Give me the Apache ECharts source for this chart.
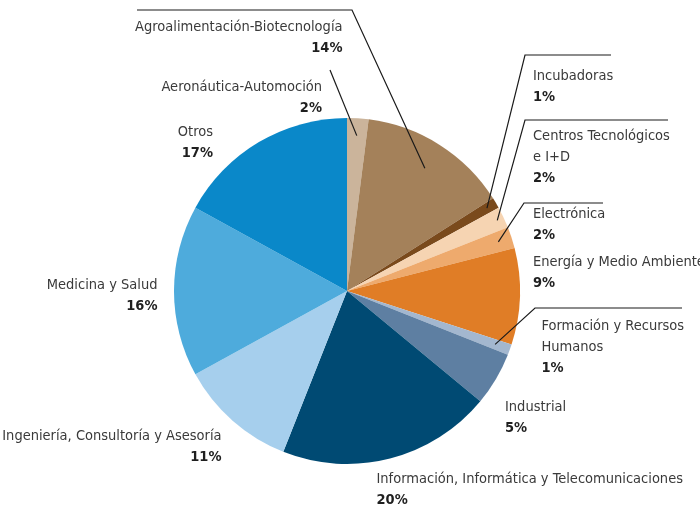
<!DOCTYPE html>
<html lang="es">
<head>
<meta charset="UTF-8">
<title>Distribución por sectores</title>
<style>
  * { margin: 0; padding: 0; }
  #grafico { width: 700px; height: 508px; background: #fff; }
</style>
</head>
<body>
<div id="grafico"></div>
<script src="https://cdn.jsdelivr.net/npm/echarts@6/dist/echarts.min.js"></script>
<script>
// datos
var sectores = [
    'Aeronáutica-Automoción',
    'Agroalimentación-Biotecnología',
    'Incubadoras',
    'Centros Tecnológicos\ne I+D',
    'Electrónica',
    'Energía y Medio Ambiente',
    'Formación y Recursos\nHumanos',
    'Industrial',
    'Información, Informática y Telecomunicaciones',
    'Ingeniería, Consultoría y Asesoría',
    'Medicina y Salud',
    'Otros'
];
var porcentajes = [2, 14, 1, 2, 2, 9, 1, 5, 20, 11, 16, 17];
var colores = ['#cbb49b', '#a4815a', '#7a4a1c', '#f6d4b2', '#eeaa6d', '#e07d26',
               '#a3b7cf', '#5e7fa2', '#004a73', '#a6cfed', '#4eabdc', '#0a88c9'];

// colocación de etiquetas (x, centro de la primera línea, alineación)
var etiquetaX = [322, 342.5, 533, 533, 533, 533, 541.5, 505, 376.5, 221.5, 157.5, 213];
var etiquetaY = [87, 27, 76, 136.5, 214.5, 262.5, 326, 407.5, 479, 436.5, 285.5, 132.5];
var alineacion = ['right', 'right', 'left', 'left', 'left', 'left', 'left', 'left', 'left', 'right', 'right', 'right'];
// líneas guía: codo, final horizontal y fracción del radio donde empiezan
var codoX = [330, 352, 525, 525, 524, null, 535, null, null, null, null, null];
var codoY = [70, 10, 55, 120, 203, null, 308, null, null, null, null, null];
var finX = [330, 137, 611, 668, 603, null, 682, null, null, null, null, null];
var radioLinea = [0.9, 0.84, 0.94, 0.96, 0.92, null, 0.91, null, null, null, null, null];

var centro = [347, 291];
var radio = 173;
var fuente = '"DejaVu Sans Condensed", "Liberation Sans Narrow", "Liberation Sans", sans-serif';
var tamFuente = 14.5;
var altoLinea = 21;

function puntoInterior(i, f) {
    var total = 0, antes = 0;
    for (var k = 0; k < porcentajes.length; k++) {
        total += porcentajes[k];
        if (k < i) antes += porcentajes[k];
    }
    var ang = (antes + porcentajes[i] / 2) / total * Math.PI * 2; // desde las 12, sentido horario
    return [centro[0] + Math.sin(ang) * radio * f, centro[1] - Math.cos(ang) * radio * f];
}

var sectoresPie = [], etiquetasPie = [];
for (var i = 0; i < sectores.length; i++) {
    sectoresPie.push({ name: sectores[i], value: porcentajes[i], itemStyle: { color: colores[i] } });
    etiquetasPie.push({ name: sectores[i], value: porcentajes[i], labelLine: { show: codoX[i] != null } });
}

var grafico = echarts.init(document.getElementById('grafico'));
grafico.setOption({
    animation: false,
    backgroundColor: '#fff',
    series: [{
        // tarta coloreada
        type: 'pie',
        z: 2,
        center: centro,
        radius: radio,
        startAngle: 90,
        clockwise: true,
        silent: true,
        data: sectoresPie,
        itemStyle: { borderWidth: 0 },
        emphasis: { disabled: true },
        label: { show: false },
        labelLine: { show: false }
    }, {
        // capa transparente con etiquetas y líneas guía por encima
        type: 'pie',
        z: 3,
        center: centro,
        radius: radio,
        startAngle: 90,
        clockwise: true,
        avoidLabelOverlap: false,
        silent: true,
        data: etiquetasPie,
        itemStyle: { color: 'rgba(0,0,0,0)', borderWidth: 0 },
        emphasis: { disabled: true },
        label: {
            show: true,
            position: 'outside',
            fontFamily: fuente,
            formatter: function (p) {
                var lineas = p.name.split('\n').map(function (s) { return '{n|' + s + '}'; });
                lineas.push('{p|' + p.value + '%}');
                return lineas.join('\n');
            },
            rich: {
                n: { fontFamily: fuente, fontSize: tamFuente, color: '#3a3a3a', lineHeight: altoLinea },
                p: { fontFamily: fuente, fontSize: tamFuente, fontWeight: 'bold', color: '#1f1f1f', lineHeight: altoLinea }
            }
        },
        labelLine: {
            showAbove: true,
            smooth: false,
            lineStyle: { color: '#1a1a1a', width: 1.2 }
        },
        labelLayout: function (params) {
            var i = params.dataIndex;
            var res = {
                x: etiquetaX[i],
                y: etiquetaY[i] - altoLinea / 2,
                align: alineacion[i],
                verticalAlign: 'top'
            };
            if (codoX[i] != null) {
                res.labelLinePoints = [
                    puntoInterior(i, radioLinea[i]),
                    [codoX[i], codoY[i]],
                    [finX[i], codoY[i]]
                ];
            }
            return res;
        }
    }]
});
</script>
</body>
</html>
